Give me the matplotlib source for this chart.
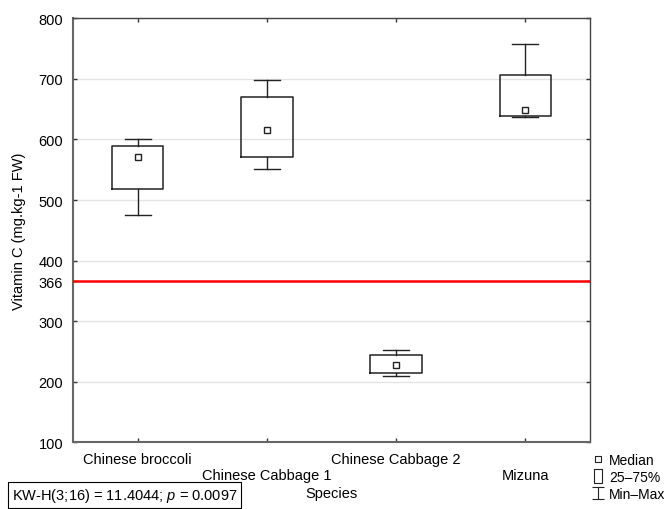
import numpy as np
import matplotlib
matplotlib.use('Agg')
import matplotlib.pyplot as plt
from matplotlib.lines import Line2D
from matplotlib.path import Path

plt.rcParams['font.family'] = ['Liberation Sans', 'DejaVu Sans']
plt.rcParams['font.size'] = 10.5
plt.rcParams['mathtext.fontset'] = 'custom'
plt.rcParams['mathtext.rm'] = 'Liberation Sans'
plt.rcParams['mathtext.it'] = 'Liberation Sans:italic'

# data
species = ['Chinese broccoli', 'Chinese Cabbage 1', 'Chinese Cabbage 2', 'Mizuna']
medians = [571, 616, 227, 648]
q1 = [519, 571, 215, 638]
q3 = [590, 670, 244, 706]
mins = [475, 551, 210, 637]
maxs = [601, 698, 253, 757]
reference = 366
yticks = [100, 200, 300, 366, 400, 500, 600, 700, 800]
kw_text = 'KW-H(3;16) = 11.4044; $p$ = 0.0097'

fs = 10.5

fig = plt.figure(figsize=(6.7, 5.1), dpi=100)
ax = fig.add_axes([73 / 670, 1 - 443.3 / 510, 517 / 670, 424 / 510])

pos = np.arange(1, len(species) + 1)
stats = []
for i, s in enumerate(species):
    stats.append(dict(med=medians[i], q1=q1[i], q3=q3[i],
                      whislo=mins[i], whishi=maxs[i], label=s))

edge = '#222222'
ax.bxp(stats, positions=pos, widths=0.4, capwidths=0.2, showfliers=False,
       boxprops=dict(color=edge, linewidth=1.1),
       whiskerprops=dict(color=edge, linewidth=1.0),
       capprops=dict(color=edge, linewidth=1.0),
       medianprops=dict(visible=False), manage_ticks=False, zorder=3)
ax.plot(pos, medians, ls='none', marker='s', ms=5, mfc='white',
        mec=edge, mew=1.0, zorder=5)

ax.axhline(reference, color='red', lw=1.8, zorder=4)

ax.set_xlim(0.5, len(species) + 0.5)
ax.set_ylim(100, 800)
ax.set_yticks(yticks)
ax.set_xticks(pos)
ax.set_xticklabels([s if i % 2 == 0 else '\n' + s for i, s in enumerate(species)])

ax.grid(axis='y', color='#e4e4e4', lw=1.0, zorder=0)
ax.yaxis.get_gridlines()[yticks.index(reference)].set_visible(False)
ax.set_axisbelow(True)

ax.tick_params(direction='in', length=3, width=1, top=True, right=True,
               color='#333333', labelsize=fs)
ax.tick_params(axis='x', pad=7)
ax.tick_params(axis='y', pad=7)
for side in ['left', 'bottom']:
    ax.spines[side].set_color('#666666')
    ax.spines[side].set_linewidth(1.5)
for side in ['top', 'right']:
    ax.spines[side].set_color('#444444')
    ax.spines[side].set_linewidth(1.0)

ax.set_ylabel('Vitamin C (mg.kg-1 FW)', fontsize=fs, labelpad=9)
ax.set_xlabel('Species', fontsize=fs, labelpad=3)

# legend markers
small_sq = Path([(-1, 1), (1, 1), (1, -1), (-1, -1), (-1, 1)])
rect = Path([(-0.6, 1), (0.6, 1), (0.6, -1), (-0.6, -1), (-0.6, 1)])
ibeam = Path([(-1, 1), (1, 1), (0, 1), (0, -1), (-1, -1), (1, -1)],
             [Path.MOVETO, Path.LINETO, Path.MOVETO, Path.LINETO,
              Path.MOVETO, Path.LINETO])
handles = [
    Line2D([], [], ls='none', marker=small_sq, ms=4, mfc='white', mec=edge, mew=0.8),
    Line2D([], [], ls='none', marker=rect, ms=10, mfc='white', mec=edge, mew=0.8),
    Line2D([], [], ls='none', marker=ibeam, ms=9, mfc='none', mec=edge, mew=0.8),
]
fig.legend(handles, ['Median', '25\u201375%', 'Min\u2013Max'],
           loc='upper left', bbox_to_anchor=(591 / 670, 1 - 454 / 510),
           frameon=False, handlelength=1.0, handletextpad=0.3,
           labelspacing=0.2, borderpad=0, borderaxespad=0, fontsize=10)

fig.text(12 / 670, 1 - 496 / 510, kw_text, ha='left', va='center', fontsize=fs,
         bbox=dict(boxstyle='square,pad=0.25', fc='white', ec='black', lw=0.8))

fig.savefig('out.png', dpi=100)
